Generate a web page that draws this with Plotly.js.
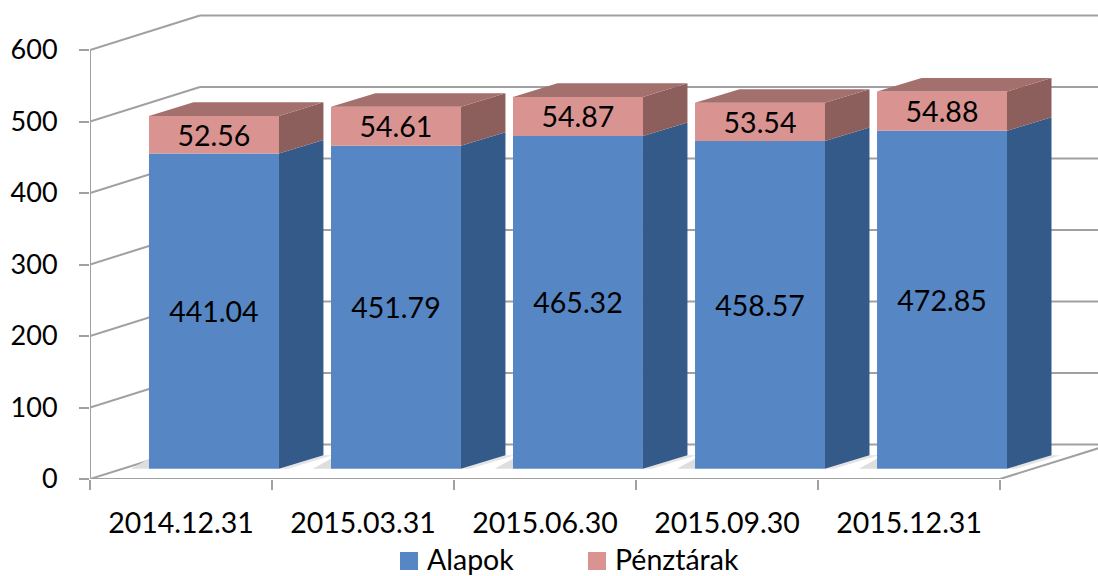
<!DOCTYPE html>
<html>
<head>
<meta charset="utf-8">
<script src="https://cdn.plot.ly/plotly-3.0.1.min.js"></script>
<style>
html,body{margin:0;padding:0;background:#fff}
.legendpoints path{transform:translate(22px,2px) scale(1.5)}
</style>
</head>
<body>
<div id="chart" style="width:1098px;height:576px"></div>
<script>
const categories = ['2014.12.31','2015.03.31','2015.06.30','2015.09.30','2015.12.31'];
const alapok = [441.04,451.79,465.32,458.57,472.85];
const penztarak = [52.56,54.61,54.87,53.54,54.88];
const yTicks = [0,100,200,300,400,500,600];

// 3D projection, in axis units
const wallDx = 0.604, wallDy = 48.25;   // front plane -> back wall
const slotDx = 0.324, slotDy = 14.3;    // front plane -> bar front-left
const barW = 0.714, barDx = 0.2445, barDy = 18.9; // bar width and depth
const xMax = 5.538, yMax = 663;
const gridColor = '#a0a0a0';

const idx = categories.map((_, i) => i);
const left = idx.map(i => i + slotDx);
const right = idx.map(i => i + slotDx + barW);
const lowTop = idx.map(i => slotDy + alapok[i]);
const highTop = idx.map(i => slotDy + alapok[i] + penztarak[i]);

function polys(list){
  const xs = [], ys = [];
  list.forEach(p => { p.forEach(q => { xs.push(q[0]); ys.push(q[1]); }); xs.push(null); ys.push(null); });
  return {x: xs, y: ys};
}
function face(list, color){
  const p = polys(list);
  return {type:'scatter', mode:'lines', x:p.x, y:p.y, fill:'toself', fillcolor:color,
          line:{width:0, color:color}, hoverinfo:'skip', showlegend:false};
}
const sideBlue = idx.map(i => [[right[i],slotDy],[right[i]+barDx,slotDy+barDy],[right[i]+barDx,lowTop[i]+barDy],[right[i],lowTop[i]],[right[i],slotDy]]);
const sidePink = idx.map(i => [[right[i],lowTop[i]],[right[i]+barDx,lowTop[i]+barDy],[right[i]+barDx,highTop[i]+barDy],[right[i],highTop[i]],[right[i],lowTop[i]]]);
const topPink = idx.map(i => [[left[i],highTop[i]],[right[i],highTop[i]],[right[i]+barDx,highTop[i]+barDy],[left[i]+barDx,highTop[i]+barDy],[left[i],highTop[i]]]);

const shapes = [];
yTicks.forEach(t => {
  shapes.push({type:'line', layer:'below', xref:'x', yref:'y', x0:0, x1:wallDx, y0:t, y1:t+wallDy, line:{color:gridColor,width:2}});
  shapes.push({type:'line', layer:'below', xref:'x', yref:'y', x0:wallDx, x1:xMax, y0:t+wallDy, y1:t+wallDy, line:{color:gridColor,width:2}});
});
// soft floor shadows
idx.forEach(i => {
  const p = [[left[i]-0.1,slotDy],[right[i],slotDy],[right[i]+barDx,slotDy+barDy],[right[i]+barDx+0.05,slotDy+barDy],[right[i]+0.05,slotDy],[left[i]-0.1,slotDy]];
  const path = p.map((q,k)=>(k?'L':'M')+q[0]+','+q[1]).join(' ')+' Z';
  shapes.push({type:'path', layer:'below', xref:'x', yref:'y', path:path, fillcolor:'#e4e4e4', line:{width:0}});
  const q = [[left[i]-0.1,slotDy],[left[i],slotDy],[left[i],slotDy+barDy*0.75],[left[i]-0.1,slotDy]];
  shapes.push({type:'path', layer:'below', xref:'x', yref:'y', path:q.map((r,k)=>(k?'L':'M')+r[0]+','+r[1]).join(' ')+' Z', fillcolor:'#dedede', line:{width:0}});
});

const fontFam = 'Lato, "Open Sans", sans-serif';
const traces = [
  {type:'bar', name:'Alapok', x:left.map(v=>v+barW/2), y:alapok, base:idx.map(()=>slotDy), width:barW,
   marker:{color:'#5687c4', line:{width:0}}, text:alapok.map(v=>v.toFixed(2)), textposition:'inside',
   insidetextanchor:'middle', textangle:0, constraintext:'none', insidetextfont:{color:'#000',size:28.5,family:fontFam}, hoverinfo:'skip'},
  {type:'bar', name:'Pénztárak', x:left.map(v=>v+barW/2), y:penztarak, base:lowTop, width:barW,
   marker:{color:'#d99391', line:{width:0}}, text:penztarak.map(v=>v.toFixed(2)), textposition:'inside',
   insidetextanchor:'middle', textangle:0, constraintext:'none', insidetextfont:{color:'#000',size:28.5,family:fontFam}, hoverinfo:'skip'},
  face(sideBlue,'#345a8a'),
  face(sidePink,'#8c5f5c'),
  face(topPink,'#a3706e'),
  // axis lines
  {type:'scatter', mode:'lines', x:[0,0,idx.length,idx.length+0.54], y:[yTicks[yTicks.length-1],0,0,wallDy*0.89],
   line:{color:gridColor,width:2}, cliponaxis:false, hoverinfo:'skip', showlegend:false}
];

const layout = {
  width:1098, height:576, margin:{l:90,r:0,t:5,b:97},
  paper_bgcolor:'#fff', plot_bgcolor:'rgba(0,0,0,0)',
  barmode:'overlay', showlegend:true,
  font:{family:fontFam, color:'#000', size:27},
  xaxis:{range:[0,xMax], showgrid:false, zeroline:false, showline:false,
         tickmode:'array', tickvals:idx.map(i=>i+0.5), ticktext:categories, ticks:'', ticklen:0,
         ticklabelstandoff:24, tickfont:{size:28.5,family:fontFam,color:'#000'},
         minor:{tickmode:'array', tickvals:[0,1,2,3,4,5], ticks:'outside', ticklen:10, tickwidth:2, tickcolor:gridColor, showgrid:false}},
  yaxis:{range:[0,yMax], showgrid:false, zeroline:false, showline:false,
         tickmode:'array', tickvals:yTicks, ticks:'outside', ticklen:10, tickwidth:2, tickcolor:gridColor,
         ticklabelstandoff:16, tickfont:{size:27,family:fontFam,color:'#000'}},
  shapes:shapes,
  legend:{orientation:'h', xref:'container', yref:'container', x:387/1098, xanchor:'left', y:1-534/576, yanchor:'top',
          font:{size:28.5,family:fontFam,color:'#000'}, entrywidth:143, entrywidthmode:'pixels', bgcolor:'rgba(0,0,0,0)',
          traceorder:'normal'}
};
Plotly.newPlot('chart', traces, layout, {displayModeBar:false, responsive:false});
</script>
</body>
</html>
